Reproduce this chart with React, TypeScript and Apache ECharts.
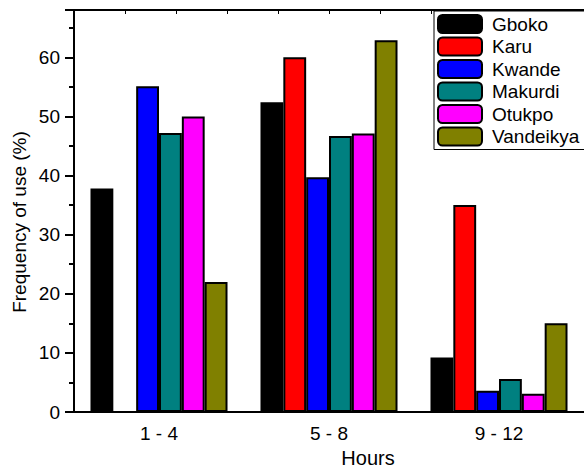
import React, { useEffect, useRef } from "react";
import * as echarts from "echarts";

const categories = ["1 - 4", "5 - 8", "9 - 12"];
const seriesNames = ["Gboko", "Karu", "Kwande", "Makurdi", "Otukpo", "Vandeikya"];
const gboko = [37.8, 52.4, 9.2];
const karu = [0, 60.0, 35.0];
const kwande = [55.1, 39.7, 3.6];
const makurdi = [47.2, 46.7, 5.6];
const otukpo = [50.0, 47.1, 3.1];
const vandeikya = [22.0, 62.9, 15.0];
const colors = ["#000000", "#ff0000", "#0000ff", "#008080", "#ff00ff", "#808000"];
const yTicks = [0, 10, 20, 30, 40, 50, 60];
const yTitle = "Frequency of use (%)";

const FONT = "'Liberation Sans', Arial, sans-serif";

export default function App() {
  const ref = useRef<HTMLDivElement>(null);
  useEffect(() => {
    document.body.style.margin = "0";
    const chart = echarts.init(ref.current!, null, { renderer: "svg" });
    const data = [gboko, karu, kwande, makurdi, otukpo, vandeikya];
    chart.setOption({
      animation: false,
      backgroundColor: "#ffffff",
      textStyle: { fontFamily: FONT },
      grid: { left: 74, top: 10, right: 0, bottom: 58, show: false },
      graphic: [
        {
          type: "text",
          x: 19,
          y: 222,
          rotation: Math.PI / 2,
          style: {
            text: yTitle,
            fontSize: 19,
            fontFamily: FONT,
            fill: "#000",
            align: "center",
            verticalAlign: "middle",
          },
        },
      ],
      legend: {
        orient: "vertical",
        left: 434,
        top: 11,
        itemWidth: 44,
        itemHeight: 18,
        itemGap: 2.5,
        padding: [3, 6, 3, 3],
        borderColor: "#000",
        borderWidth: 1,
        backgroundColor: "#fff",
        textStyle: { fontSize: 19, color: "#000", fontFamily: FONT, padding: [0, 0, 0, 5] },
        data: seriesNames,
      },
      xAxis: [
        {
          type: "category",
          data: categories,
          position: "bottom",
          axisLine: { lineStyle: { color: "#000", width: 2 } },
          axisTick: { alignWithLabel: true, length: 8, lineStyle: { color: "#000", width: 2 } },
          axisLabel: { fontSize: 19, color: "#000", margin: 12, fontFamily: FONT },
          name: "Hours",
          nameLocation: "middle",
          nameGap: 36,
          nameTextStyle: { fontSize: 20, color: "#000", fontFamily: FONT, padding: [0, 0, 0, 78] },
        },
        {
          type: "category",
          data: categories,
          position: "bottom",
          axisLine: { show: false },
          axisTick: { length: 3, lineStyle: { color: "#000", width: 2 } },
          axisLabel: { show: false },
        },
        {
          type: "value",
          position: "top",
          min: 0,
          max: 10,
          interval: 1,
          axisLine: { show: true, lineStyle: { color: "#000", width: 2 } },
          axisTick: { show: true, inside: true, length: 4, lineStyle: { color: "#000", width: 1 } },
          axisLabel: { show: false },
          splitLine: { show: false },
        },
      ],
      yAxis: [
        {
          type: "value",
          position: "left",
          min: 0,
          max: 68,
          interval: 10,
          axisLine: { show: true, lineStyle: { color: "#000", width: 2 } },
          axisTick: { show: true, length: 9, lineStyle: { color: "#000", width: 2 } },
          axisLabel: {
            fontSize: 19,
            color: "#000",
            margin: 14,
            fontFamily: FONT,
            formatter: (v: number) => (yTicks.includes(v) ? String(v) : ""),
          },
          splitLine: { show: false },
        },
        {
          type: "value",
          position: "left",
          min: 0,
          max: 68,
          interval: 5,
          axisLine: { show: false },
          axisTick: { show: true, length: 5, lineStyle: { color: "#000", width: 2 } },
          axisLabel: { show: false },
          splitLine: { show: false },
        },
      ],
      series: seriesNames.map((name, i) => ({
        name,
        type: "bar",
        xAxisIndex: 0,
        yAxisIndex: 0,
        data: data[i],
        barGap: "0%",
        barCategoryGap: "19.4%",
        itemStyle: { color: colors[i], borderColor: "#000", borderWidth: 2 },
      })),
    });
    return () => chart.dispose();
  }, []);
  return <div ref={ref} style={{ width: 584, height: 473 }} />;
}
